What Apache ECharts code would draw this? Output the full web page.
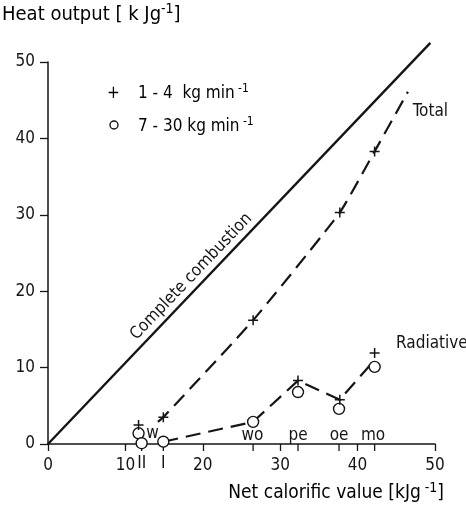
<!DOCTYPE html>
<html>
<head>
<meta charset="utf-8">
<script src="https://cdn.jsdelivr.net/npm/echarts@6/dist/echarts.min.js"></script>
<style>
  html, body { margin: 0; padding: 0; background: #fff; }
  #chart { width: 466px; height: 510px; }
</style>
</head>
<body>
<div id="chart"></div>
<script>
// values
var xTicks = [0, 10, 20, 30, 40, 50];
var yTicks = [0, 10, 20, 30, 40, 50];
var materialX = [12.1, 14.9, 26.5, 32.3, 37.6, 42.2];
var materialTick = ['II', 'I', '', '', '', ''];
var materialNames = ['w', 'wo', 'pe', 'oe', 'mo'];
var materialNameX = [13.5, 26.4, 32.3, 37.6, 42.0];
var materialNameY = [1.3, 1.1, 1.1, 1.1, 1.1];
var completeX = [0, 49.4];
var completeY = [0, 52.5];
var totalX = [14.2, 14.9, 26.5, 37.7, 42.2, 46.5];
var totalY = [2.9, 3.5, 16.2, 30.3, 38.3, 46.1];
var radX = [14.9, 26.5, 32.3, 37.7, 42.2];
var radY = [0.3, 2.9, 8.3, 5.8, 11.0];
// + = 1-4 kg/min, o = 7-30 kg/min
var plusX = [14.9, 26.5, 37.7, 42.2, 11.7, 32.3, 37.7, 42.2];
var plusY = [3.5, 16.2, 30.3, 38.3, 2.5, 8.3, 5.8, 11.9];
var circX = [11.7, 12.1, 14.9, 26.5, 32.3, 37.6, 42.2];
var circY = [1.4, 0.1, 0.3, 2.9, 6.8, 4.6, 10.1];

function pairs(xs, ys) {
  return xs.map(function (x, i) { return [x, ys[i]]; });
}

var FONT = '"DejaVu Sans Condensed", "Liberation Sans Narrow", "Noto Sans", sans-serif';
var INK = '#151515';
var plusPath = 'path://M-1,0L1,0M0,-1L0,1';

var myChart = echarts.init(document.getElementById('chart'));
function supRich(size) {
  return {
    t: { fontSize: size, fontFamily: FONT, color: INK },
    s: { fontSize: Math.round(size * 0.72), fontFamily: FONT, color: INK, padding: [0, 0, Math.round(size * 0.6), 0] }
  };
}
var txt = { color: INK, fontSize: 17, fontFamily: FONT };

var option = {
  animation: false,
  backgroundColor: '#fff',
  grid: { left: 48, right: 31, top: 62, bottom: 66 },
  xAxis: {
    type: 'value', min: 0, max: 50, interval: 10,
    axisLine: { lineStyle: { color: INK, width: 1.5 } },
    axisTick: { length: 7, lineStyle: { color: INK, width: 1.3 } },
    axisLabel: { color: INK, fontSize: 17, fontFamily: FONT, margin: 13 },
    splitLine: { show: false }
  },
  yAxis: {
    type: 'value', min: 0, max: 50, interval: 10,
    axisLine: { show: true, lineStyle: { color: INK, width: 1.5 } },
    axisTick: { show: true, length: 8, lineStyle: { color: INK, width: 1.3 } },
    axisLabel: { color: INK, fontSize: 17, fontFamily: FONT, margin: 13 },
    splitLine: { show: false }
  },
  graphic: [
    { type: 'text', left: 2, top: 2,
      style: { text: '{t|Heat output [ k Jg}{s|-1}{t|]}', rich: supRich(20) } },
    { type: 'text', right: 22, top: 481,
      style: { text: '{t|Net calorific value [kJg}{s| -1}{t|]}', rich: supRich(19) } },
    { type: 'text', left: 107, top: 85,
      style: { text: '{t|+}', rich: supRich(17) } },
    { type: 'text', left: 138, top: 83,
      style: { text: '{t|1 - 4  kg min}{s| -1}', rich: supRich(17) } },
    { type: 'circle', shape: { cx: 114, cy: 125, r: 4 },
      style: { fill: '#fff', stroke: INK, lineWidth: 1.4 } },
    { type: 'text', left: 138, top: 116,
      style: { text: '{t|7 - 30 kg min}{s| -1}', rich: supRich(17) } }
  ],
  series: [
    {
      type: 'line', data: pairs(completeX, completeY), clip: false,
      symbol: 'none', lineStyle: { color: INK, width: 2.4 }
    },
    {
      type: 'line', data: pairs(totalX, totalY), clip: false, smooth: 0.15,
      symbol: 'none', lineStyle: { color: INK, width: 2.2, type: [15, 8] }
    },
    {
      type: 'line', data: pairs(radX, radY), clip: false,
      symbol: 'none', lineStyle: { color: INK, width: 2.2, type: [15, 8] }
    },
    {
      type: 'scatter', data: pairs(circX, circY), clip: false,
      symbol: 'circle', symbolSize: 11,
      itemStyle: { color: '#fff', borderColor: INK, borderWidth: 1.4, opacity: 1 }, z: 3
    },
    {
      type: 'scatter', data: pairs(plusX, plusY), clip: false,
      symbol: plusPath, symbolSize: 10,
      itemStyle: { color: 'none', borderColor: INK, borderWidth: 1.5, opacity: 1 }, z: 4
    },
    {
      // material ticks on the x axis, with II / I marks under them
      type: 'scatter', clip: false, z: 2,
      data: materialX.map(function (x, i) { return { value: [x, 0], name: materialTick[i] }; }),
      symbol: 'rect', symbolSize: [1.3, 7], symbolOffset: [0, 3.5],
      itemStyle: { color: INK, opacity: 1 },
      label: Object.assign({ show: true, position: 'bottom', distance: 4, formatter: '{b}' }, txt)
    },
    {
      type: 'scatter', clip: false, z: 5, symbolSize: 0,
      itemStyle: { opacity: 1 },
      data: materialNameX.map(function (x, i) { return { value: [x, materialNameY[i]], name: materialNames[i] }; }),
      label: Object.assign({ show: true, position: 'inside', formatter: '{b}' }, txt)
    },
    {
      type: 'scatter', clip: false, z: 5, symbolSize: 0,
      itemStyle: { opacity: 1 },
      data: [
        { value: [49.4, 43.5], name: 'Total' },
        { value: [49.6, 13.2], name: 'Radiative' }
      ],
      label: Object.assign({ show: true, position: 'inside', formatter: '{b}' }, txt)
    },
    {
      type: 'scatter', clip: false, z: 5, symbolSize: 0,
      itemStyle: { opacity: 1 },
      data: [{ value: [18.5, 21.9], name: 'Complete combustion' }],
      label: Object.assign({ show: true, position: 'inside', formatter: '{b}', rotate: 46.3 }, txt)
    }
  ]
};
myChart.setOption(option);
</script>
</body>
</html>
